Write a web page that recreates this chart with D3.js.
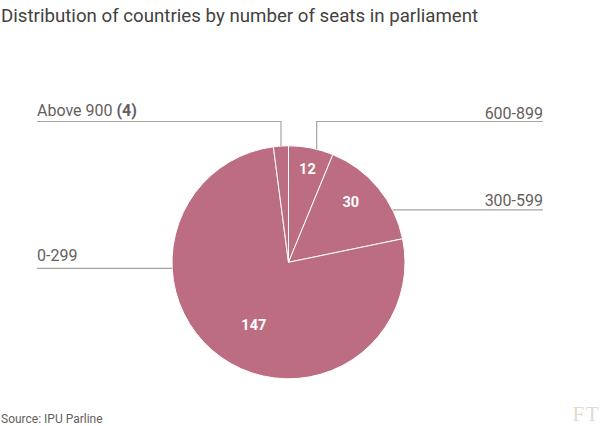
<!DOCTYPE html>
<html>
<head>
<meta charset="utf-8">
<script src="https://cdn.jsdelivr.net/npm/d3@7"></script>
<style>
  body { margin: 0; background: #fff; }
  svg { display: block; font-family: Roboto, "Noto Sans", sans-serif; }
</style>
</head>
<body>
<div id="chart"></div>
<script>
// data: number of countries per seat band (clockwise from 12 o'clock)
var categories = ["600-899", "300-599", "0-299", "Above 900"];
var counts = [12, 30, 147, 4];
var showInSlice = [true, true, true, false];

var title = "Distribution of countries by number of seats in parliament";
var source = "Source: IPU Parline";

// layout
var width = 601, height = 426;
var cx = 288.5, cy = 262.3, radius = 116.5;
var leftX = 37, rightX = 543, elbowY = 121.5;

// where each leader line meets the pie (degrees clockwise from top), and where the number sits
var leaders = {
  "600-899":   {angle: 14,   side: "right", elbow: true,  gap: 3},
  "300-599":   {angle: 63.3, side: "right", elbow: false, gap: 3.5},
  "0-299":     {angle: 267,  side: "left",  elbow: false, gap: 7.5},
  "Above 900": {angle: -3.7, side: "left",  elbow: true,  gap: 5.8}
};
var sliceLabels = {
  "600-899": {r: 95, angle: 11.5},
  "300-599": {r: 87, angle: 45.7},
  "0-299":   {r: 72, angle: 208.8}
};

var pieColor = "#bc6d81", lineColor = "#a7a59e", labelColor = "#66605c";

var svg = d3.select("#chart").append("svg")
  .attr("width", width)
  .attr("height", height);

svg.append("text")
  .attr("x", 1)
  .attr("y", 22)
  .attr("fill", "#43423e")
  .style("font-size", "18.7px")
  .text(title);

var slices = categories.map(function(c, i) {
  return {cat: c, value: counts[i], show: showInSlice[i]};
});

var pie = d3.pie().sort(null).value(function(d) { return d.value; });
var arc = d3.arc().innerRadius(0).outerRadius(radius);
var arcs = pie(slices);

var g = svg.append("g")
  .attr("transform", "translate(" + cx + "," + cy + ")");

g.selectAll(".slice")
  .data(arcs)
.enter().append("path")
  .attr("class", "slice")
  .attr("d", arc)
  .attr("fill", pieColor)
  .attr("stroke", "#fff")
  .attr("stroke-width", 1);

// numbers inside slices
g.selectAll(".num")
  .data(arcs.filter(function(a) { return a.data.show; }))
.enter().append("text")
  .attr("class", "num")
  .attr("x", function(a) {
    var l = sliceLabels[a.data.cat];
    return l.r * Math.sin(l.angle * Math.PI / 180);
  })
  .attr("y", function(a) {
    var l = sliceLabels[a.data.cat];
    return -l.r * Math.cos(l.angle * Math.PI / 180);
  })
  .attr("dy", "0.35em")
  .attr("text-anchor", "middle")
  .attr("fill", "#fff")
  .style("font-size", "14.5px")
  .style("font-weight", "bold")
  .text(function(a) { return a.data.value; });

// leader lines and category labels
arcs.forEach(function(a) {
  var l = leaders[a.data.cat];
  var t = l.angle * Math.PI / 180;
  var px = cx + radius * Math.sin(t), py = cy - radius * Math.cos(t);
  var endX = l.side == "left" ? leftX : rightX;
  var lineY = l.elbow ? elbowY : py;
  var pts = l.elbow ? [[px, py], [px, lineY], [endX, lineY]] : [[px, py], [endX, lineY]];

  svg.append("path")
    .attr("d", d3.line()(pts))
    .attr("fill", "none")
    .attr("stroke", lineColor)
    .attr("stroke-width", 1.2);

  var txt = svg.append("text")
    .attr("x", endX)
    .attr("y", lineY - l.gap)
    .attr("text-anchor", l.side == "left" ? "start" : "end")
    .attr("fill", labelColor)
    .style("font-size", "16px")
    .text(a.data.cat);
  if (!a.data.show) {
    txt.append("tspan")
      .style("font-weight", "bold")
      .text(" (" + a.data.value + ")");
  }
});

svg.append("text")
  .attr("x", 1)
  .attr("y", 423)
  .attr("fill", "#66605c")
  .style("font-size", "12px")
  .text(source);

svg.append("text")
  .attr("x", 600)
  .attr("y", 421)
  .attr("text-anchor", "end")
  .attr("fill", "#e6d9ce")
  .style("font-family", "'Liberation Serif', serif")
  .style("font-size", "21px")
  .style("letter-spacing", "1.5px")
  .text("FT");
</script>
</body>
</html>
